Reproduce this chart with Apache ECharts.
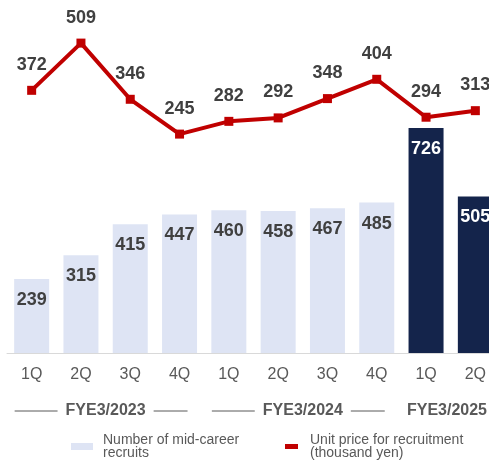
<!DOCTYPE html>
<html><head><meta charset="utf-8">
<script src="https://cdn.jsdelivr.net/npm/echarts@6/dist/echarts.min.js"></script>
<style>html,body{margin:0;padding:0;background:#fff;overflow:hidden}#c{width:500px;height:461px}</style>
</head><body><div id="c"></div>
<script>
var categories = ['1Q','2Q','3Q','4Q','1Q','2Q','3Q','4Q','1Q','2Q'];
var recruits = [239,315,415,447,460,458,467,485,726,505];
var unitPrice = [372,509,346,245,282,292,348,404,294,313];
var highlighted = [false,false,false,false,false,false,false,false,true,true];
var yearGroups = ['FYE3/2023','FYE3/2024','FYE3/2025'];
var yearSpans = [[0,3],[4,7],[8,9]];
var FONT = '"Liberation Sans", Arial, sans-serif';
var LIGHT = '#DEE4F4', DARK = '#14244B', RED = '#C00000';

var chart = echarts.init(document.getElementById('c'), null, {renderer:'canvas'});
var barData = recruits.map(function(v,i){
  return {value:v, itemStyle:{color: highlighted[i]?DARK:LIGHT},
          label:{color: highlighted[i]?'#FFFFFF':'#404040'}};
});
chart.setOption({
  animation:false,
  textStyle:{fontFamily:FONT},
  grid:{left:7, right:0, top:20, bottom:108},
  xAxis:{type:'category', data:categories,
    axisLine:{lineStyle:{color:'#D9D9D9', width:1}},
    axisTick:{show:false},
    axisLabel:{fontSize:16, color:'#595959', margin:14, fontFamily:FONT}},
  yAxis:[
    {type:'value', min:0, max:1074, show:false, splitLine:{show:false}},
    {type:'value', min:-390, max:576, show:false, splitLine:{show:false}}
  ],
  legend:[
    {data:[{name:'Number of mid-career\nrecruits', icon:'rect'}], left:66, top:428,
     itemWidth:22, itemHeight:7, selectedMode:false,
     textStyle:{fontSize:14, color:'#595959', lineHeight:13, fontFamily:FONT, padding:[0,0,0,5]}},
    {data:[{name:'Unit price for recruitment\n(thousand yen)', icon:'rect'}], left:280, top:428,
     itemWidth:13, itemHeight:5, selectedMode:false,
     textStyle:{fontSize:14, color:'#595959', lineHeight:13, fontFamily:FONT, padding:[0,0,0,7]}}
  ],
  series:[
    {name:'Number of mid-career\nrecruits', type:'bar', yAxisIndex:0, barWidth:35,
     data:barData, itemStyle:{color:LIGHT},
     label:{show:true, position:'insideTop', distance:12, fontSize:18, fontWeight:'bold', fontFamily:FONT}},
    {name:'Unit price for recruitment\n(thousand yen)', type:'line', yAxisIndex:1, data:unitPrice,
     color:RED, lineStyle:{color:RED, width:4}, itemStyle:{color:RED},
     symbol:'rect', symbolSize:9,
     label:{show:true, position:'top', distance:12, fontSize:18, fontWeight:'bold', color:'#404040', fontFamily:FONT}}
  ]
});

// Fiscal year group labels with side rules, positioned from the category axis
var cv = document.createElement('canvas').getContext('2d');
cv.font = 'bold 16px ' + FONT;
var elems = [];
var yText = 412, yLine = 411, maxRight = 487;
yearGroups.forEach(function(g, k){
  var s = chart.convertToPixel({xAxisIndex:0}, yearSpans[k][0]);
  var e = chart.convertToPixel({xAxisIndex:0}, yearSpans[k][1]);
  var start = s - 17, end = e + 8, mid = (s + e) / 2;
  var w = cv.measureText(g).width;
  var tl = Math.min(mid - w/2, maxRight - w);
  elems.push({type:'text', left:tl, top:yText - 9,
    style:{text:g, font:'bold 16px ' + FONT, fill:'#595959'}});
  var l1 = tl - 8;
  if (l1 - start > 5) elems.push({type:'line', shape:{x1:start, y1:yLine, x2:l1, y2:yLine}, style:{stroke:'#595959', lineWidth:1}});
  var r1 = tl + w + 8;
  if (end - r1 > 5) elems.push({type:'line', shape:{x1:r1, y1:yLine, x2:end, y2:yLine}, style:{stroke:'#595959', lineWidth:1}});
});
chart.setOption({graphic:elems});
</script></body></html>
